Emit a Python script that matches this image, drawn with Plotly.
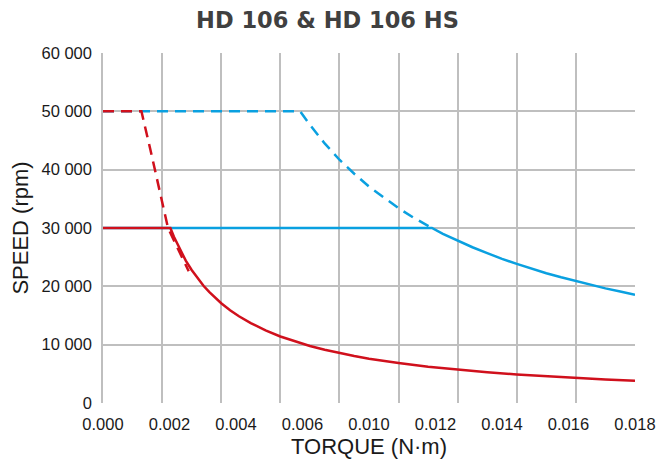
import plotly.graph_objects as go

title_text = "HD 106 & HD 106 HS"

# Grid tick values (torque, N·m)
x_grid = [0.000, 0.002, 0.004, 0.006, 0.008, 0.010, 0.012, 0.014, 0.016, 0.018]
# Tick labels as printed under the axis (evenly spaced)
x_labels = ["0.000", "0.002", "0.004", "0.006", "0.010", "0.012", "0.014", "0.016", "0.018"]
y_ticks = [0, 10000, 20000, 30000, 40000, 50000, 60000]
y_labels = ["0", "10 000", "20 000", "30 000", "40 000", "50 000", "60 000"]

# HD 106 HS – continuous (blue solid)
hs_cont_x = [0.0, 0.00228, 0.01113, 0.0115, 0.012, 0.0125, 0.013, 0.0135, 0.014, 0.0145,
             0.015, 0.0155, 0.016, 0.0165, 0.017, 0.0175, 0.018]
hs_cont_y = [30000, 30000, 30000, 29000, 27800, 26700, 25700, 24700, 23850, 23000,
             22250, 21550, 20900, 20250, 19650, 19100, 18550]
# HD 106 HS – peak (blue dashed)
hs_peak_x = [0.0, 0.00667, 0.007, 0.0075, 0.008, 0.0085, 0.009, 0.0095, 0.010, 0.0105, 0.01113]
hs_peak_y = [50000, 50000, 47700, 44500, 41700, 39300, 37100, 35200, 33400, 31800, 30000]
# HD 106 – continuous (red solid)
hd_cont_x = [0.0, 0.00228, 0.0024, 0.0026, 0.0028, 0.003, 0.0032, 0.0034, 0.0036, 0.0038,
             0.004, 0.0043, 0.0046, 0.005, 0.0055, 0.006, 0.0065, 0.007, 0.0075, 0.008,
             0.0085, 0.009, 0.0095, 0.010, 0.011, 0.012, 0.013, 0.014, 0.015, 0.016,
             0.017, 0.018]
hd_cont_y = [30000, 30000, 28500, 26300, 24400, 22800, 21400, 20100, 19000, 18000,
             17100, 15900, 14870, 13700, 12450, 11400, 10520, 9770, 9120, 8550,
             8050, 7600, 7200, 6860, 6230, 5710, 5270, 4890, 4560, 4280,
             4030, 3800]
# HD 106 – peak (red dashed)
hd_peak_x = [0.0, 0.0013, 0.0016, 0.0019, 0.0022, 0.0025, 0.0029]
hd_peak_y = [50000, 50000, 43500, 36800, 30000, 26800, 22600]

blue = "#0aa0e0"
red = "#d0101c"
grid = "#bfbfbf"
txt = "#1a1a1a"

fig = go.Figure()
fig.add_trace(go.Scatter(x=hs_peak_x, y=hs_peak_y, mode="lines",
                         line=dict(color=blue, width=2.5, dash="11px,7px")))
fig.add_trace(go.Scatter(x=hs_cont_x, y=hs_cont_y, mode="lines",
                         line=dict(color=blue, width=2.5)))
fig.add_trace(go.Scatter(x=hd_peak_x, y=hd_peak_y, mode="lines",
                         line=dict(color=red, width=2.5, dash="11px,7px")))
fig.add_trace(go.Scatter(x=hd_cont_x, y=hd_cont_y, mode="lines",
                         line=dict(color=red, width=2.5)))
# invisible trace for label axis
fig.add_trace(go.Scatter(x=[0, len(x_labels) - 1], y=[0, 0], xaxis="x2", mode="lines",
                         line=dict(width=0), hoverinfo="skip", showlegend=False,
                         opacity=0))

fig.update_layout(
    width=658, height=466,
    margin=dict(l=103, r=23, t=53, b=63),
    paper_bgcolor="white", plot_bgcolor="white",
    showlegend=False,
    font=dict(family="Liberation Sans, Arial, sans-serif", color=txt),
    title=dict(text="<b>" + title_text + "</b>", x=0.4977, xanchor="center",
               y=0.957, yanchor="middle",
               font=dict(family="DejaVu Sans, sans-serif", size=22.5, color="#404040")),
    xaxis=dict(range=[0, 0.018], tickvals=x_grid, showticklabels=False,
               showgrid=True, gridcolor=grid, gridwidth=1.5, automargin=False,
               zeroline=False, showline=False, ticks=""),
    xaxis2=dict(range=[0, len(x_labels) - 1], overlaying="x", anchor="y", side="bottom",
                tickvals=list(range(len(x_labels))), ticktext=x_labels,
                showgrid=False, zeroline=False, showline=False, ticks="",
                automargin=False, ticklabelstandoff=9,
                tickfont=dict(size=16.5, color=txt),
                title=dict(text="TORQUE (N·m)", font=dict(size=22, color=txt),
                           standoff=7)),
    yaxis=dict(range=[0, 60000], tickvals=y_ticks, ticktext=y_labels,
               showgrid=True, gridcolor=grid, gridwidth=1.5, automargin=False,
               zeroline=False, showline=True, linecolor=grid, linewidth=1.5,
               ticks="", ticklabelstandoff=6,
               tickfont=dict(size=16.5, color=txt),
               title=dict(text="SPEED (rpm)", font=dict(size=22, color=txt),
                          standoff=7)),
)

fig.write_html("out.html",
               config={"displayModeBar": False},
               post_script="document.body.style.margin='0';"
                           "document.body.style.overflow='hidden';")
